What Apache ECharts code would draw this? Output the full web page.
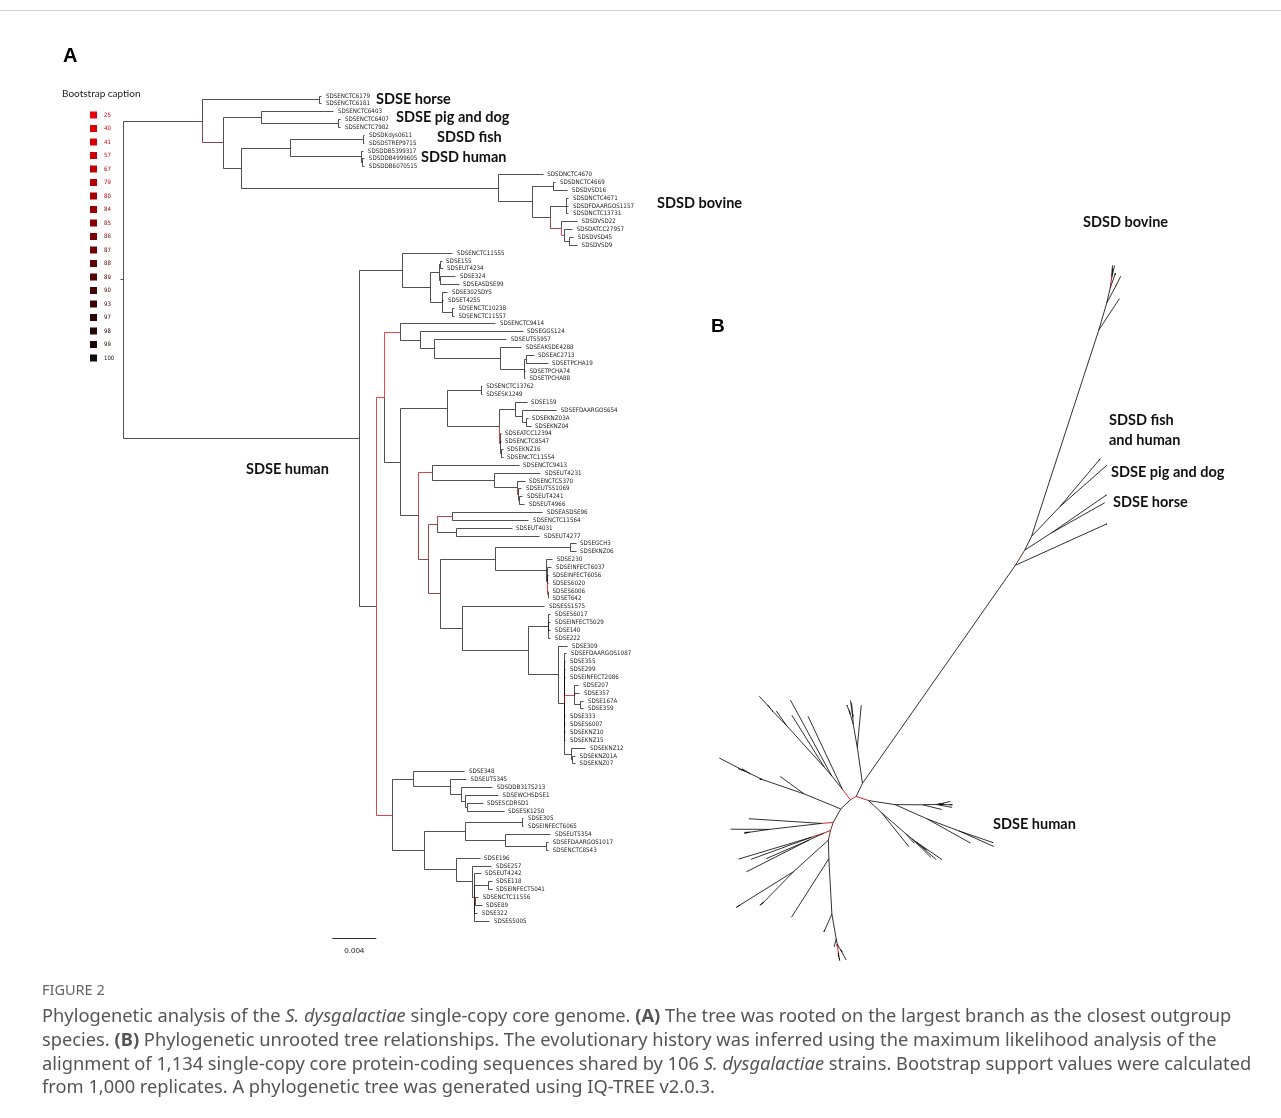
<!DOCTYPE html>
<html>
<head>
<meta charset="utf-8">
<script src="https://cdn.jsdelivr.net/npm/echarts@6/dist/echarts.min.js"></script>
<style>
  html, body { margin: 0; padding: 0; background: #ffffff; }
  #chart { width: 1281px; height: 1118px; }
</style>
</head>
<body>
<div id="chart"></div>
<script>
// ---------------------------------------------------------------------------
// Tree data: Newick clades, branch lengths in 1e-4 substitutions/site,
// internal node labels = bootstrap support (%)
// ---------------------------------------------------------------------------
const cladeHorse = "(SDSENCTC6179:1.8,SDSENCTC6181:1.8)100:106.4";
const cladePigDog = "(SDSENCTC6403:65.5,(SDSENCTC6407:1.8,SDSENCTC7982:1.8)100:70)100:34.5";
const cladeFishHumanSDSD = "((SDSDKdys0611:0.9,SDSDSTREP9715:0.9)100:66.4,(SDSDDB5399317:1.8,(SDSDDB4999605:1.8,SDSDDB6070515:1.8)100:0.9)100:64.5)100:44.5";
const cladeBovine = "(SDSDNCTC4670:40.3,((SDSDNCTC4669:1.8,SDSDVSD16:12.7)100:19.7,((SDSDNCTC4671:1.8,SDSDFDAARGOS1157:1.8,SDSDNCTC13731:1.8)100:14.8,(SDSDVSD22:14.5,(SDSDATCC27957:7,(SDSDVSD45:3.6,SDSDVSD9:7)100:4.5)25:3)86:10)100:16.7)100:30.3)100:233.6";

const humanA = "(SDSENCTC11555:45.5,(((SDSE155:1.4,SDSEUT4234:2.3)100:1.4,(SDSE324:13.6,SDSEASDSE99:16.4)100:1.8)100:7.3,(SDSE302SDYS:4.5,SDSET4255:0.9,(SDSENCTC10238:1.4,SDSENCTC11557:1.4)100:9.1)100:10.9)100:25.5)100:39.1";
const humanB = "(SDSENCTC9414:86.6,(SDSEGGS124:93,(SDSEUTSS957:66.1,(SDSEAKSDE4288:19.7,((SDSEAC2713:6.6,SDSETPCHA19:19.4)100:2.5,SDSETPCHA74:1.4,SDSETPCHA88:1.4)100:21.8)100:60)100:12.1)100:18.2)40:14.3";
const humanC = "((SDSENCTC13762:0.5,SDSESK1249:0.5)100:31.3,((SDSE159:10.9,(SDSEFDAARGOS654:30.9,(SDSEKNZ03A:1.8,SDSEKNZ04:4.5)100:3)100:7)100:14.3,(SDSEATCC12394:0.9,SDSENCTC8547:0.9,(SDSEKNZ16:1.8,SDSENCTC11554:1.8)100:0.9)79:0.6)100:47.3)100:42.4";
const humanD = "(SDSENCTC9413:78.5,(SDSEUT4231:41.8,(SDSENCTC5370:6.4,(SDSEUTSS1069:2.7,(SDSEUT4241:2.7,SDSEUT4966:4.5)100:0.9)80:0.9)100:20.9)100:56.6)57:12.5";
const humanE = "((SDSEASDSE96:82.1,SDSENCTC11564:69.4)84:13.6,(SDSEUT4031:50.3,SDSEUT4277:75.7)100:17.3)86:7.9";
const humanF = "((SDSEGCH3:5.5,SDSEKNZ06:5.5)100:67.3,(SDSE230:5.5,(SDSEINFECT6037:4.1,SDSEINFECT6056:0.9,SDSES6020:0.9,(SDSES6006:0.5,SDSET642:0.5)67:0.5)100:0.7)100:46.1)100:50.3";
const humanG = "(SDSESS1575:74.8,((SDSES6017:1.8,SDSEINFECT5029:1.8,SDSE140:1.8,SDSE222:1.8)100:18.8,(SDSE309:8.8,(SDSEFDAARGOS1087:1.8,SDSE355:0.9,SDSE299:0.9,SDSEINFECT2086:0.9,(SDSE207:3.6,SDSE357:4.5,(SDSE167A:3,SDSE359:3)100:5.2)41:9.1,SDSE333:0.9,SDSES6007:0.9,SDSEKNZ10:0.9,SDSEKNZ15:0.9,(SDSEKNZ12:13,(SDSEKNZ01A:2.7,SDSEKNZ07:2.7)100:0.9)100:6.1)99:6.1)100:27.3)100:59.6)100:20";
const humanH = "(SDSE348:47,(SDSEUT5345:14.5,(SDSDDB3175213:28.8,(SDSEWCHSDSE1:29.7,(SDSESCDRSD1:14.3,SDSESK1250:33.4)100:1.2)100:4.5)100:9.4)100:34)100:19.1";
const humanI = "((SDSE305:1.5,SDSEINFECT6065:1.5)100:51.2,(SDSEUT5354:41.2,(SDSEFDAARGOS1017:1.8,SDSENCTC8543:1.8)100:37.3)100:36.1)100:37.9";
const humanJ = "(SDSE196:21.2,(SDSE257:17.5,(SDSEUT4242:5.5,(SDSE118:3.4,SDSEINFECT5041:3.4)100:12.1,(SDSENCTC11556:2.5,SDSE89:5.5)57:0.9,SDSE322:2.7,SDSES5005:13.6)100:2.1)100:14.5)100:29.5";

const rootStub = 3.6;

// Bootstrap colour key
const bootstrapLevels = [25, 40, 41, 57, 67, 79, 80, 84, 85, 86, 87, 88, 89, 90, 93, 97, 98, 99, 100];
const bootstrapColors = ['#e8000b', '#df0008', '#d60006', '#cb0005', '#bf0004', '#b30003', '#a60002',
  '#980002', '#8a0002', '#7c0102', '#6e0202', '#600303', '#530303', '#470404', '#3b0404',
  '#300404', '#250404', '#1b0404', '#0e0e0e'];

// Scale bar (substitutions/site)
const scaleBarValue = 0.004;
const branchUnit = 1e-4;

// Clade annotations
const cladeLabelsA = [
  { text: 'SDSE horse', x: 376, y: 99 },
  { text: 'SDSE pig and dog', x: 396, y: 117 },
  { text: 'SDSD fish', x: 437, y: 137 },
  { text: 'SDSD human', x: 421, y: 157 },
  { text: 'SDSD bovine', x: 657, y: 203 },
  { text: 'SDSE human', x: 246, y: 469 }
];
const cladeLabelsB = [
  { text: 'SDSD bovine', x: 1083, y: 222 },
  { text: 'SDSD fish', x: 1109, y: 420 },
  { text: 'and human', x: 1109, y: 440 },
  { text: 'SDSE pig and dog', x: 1111, y: 472 },
  { text: 'SDSE horse', x: 1113, y: 502 },
  { text: 'SDSE human', x: 993, y: 824 }
];

const captionLines = [
  'Phylogenetic analysis of the {i|S. dysgalactiae} single-copy core genome. {b|(A)} The tree was rooted on the largest branch as the closest outgroup',
  'species. {b|(B)} Phylogenetic unrooted tree relationships. The evolutionary history was inferred using the maximum likelihood analysis of the',
  'alignment of 1,134 single-copy core protein-coding sequences shared by 106 {i|S. dysgalactiae} strains. Bootstrap support values were calculated',
  'from 1,000 replicates. A phylogenetic tree was generated using IQ-TREE v2.0.3.'
];

// ---------------------------------------------------------------------------
// Assemble and parse the tree
// ---------------------------------------------------------------------------
const outgroup = `(${cladeHorse},(${cladePigDog},(${cladeFishHumanSDSD},${cladeBovine})100:16.4)89:19.1)100:71.8`;
const humanClade = `(${humanA},((${humanB},(${humanC},(${humanD},(${humanE},(${humanF},${humanG})88:10.6)87:9.1)100:16.6)100:14.3)41:7.3,(${humanH},(${humanI},${humanJ})100:29.1)57:13.9)100:15.5)100:214.5`;
const treeNewick = `(${outgroup},${humanClade}):${rootStub};`;

function parseNewick(s) {
  let i = 0;
  function node() {
    const n = { children: [], name: '', len: 0, support: 100 };
    if (s[i] === '(') {
      i++;
      n.children.push(node());
      while (s[i] === ',') { i++; n.children.push(node()); }
      i++;
    }
    let label = '';
    while (i < s.length && !',():;'.includes(s[i])) label += s[i++];
    if (n.children.length) { if (label) n.support = +label; } else n.name = label;
    if (s[i] === ':') {
      i++;
      let num = '';
      while (i < s.length && !',();'.includes(s[i])) num += s[i++];
      n.len = +num;
    }
    return n;
  }
  return node();
}

const tree = parseNewick(treeNewick);

function supportColor(v) {
  let c = bootstrapColors[0];
  bootstrapLevels.forEach((l, k) => { if (v >= l) c = bootstrapColors[k]; });
  return c;
}
const fullSupport = supportColor(100);

// Rectangular (rooted) layout: x = distance from root, y = leaf order
let leafCounter = 0;
const leaves = [];
function layoutRect(n, x0) {
  n.x = x0 + n.len;
  if (!n.children.length) { n.y = leafCounter++; leaves.push(n); n.leafCount = 1; return; }
  n.children.forEach(c => layoutRect(c, n.x));
  n.y = (n.children[0].y + n.children[n.children.length - 1].y) / 2;
  n.leafCount = n.children.reduce((a, c) => a + c.leafCount, 0);
}
layoutRect(tree, 0);

const rectSegments = [];
const rectColors = [];
rectSegments.push([0, tree.y, tree.x, tree.y]); rectColors.push(fullSupport);
(function walk(p) {
  p.children.forEach(c => {
    const col = supportColor(c.support);
    rectSegments.push([p.x, p.y, p.x, c.y]); rectColors.push(col);
    rectSegments.push([p.x, c.y, c.x, c.y]); rectColors.push(col);
    walk(c);
  });
})(tree);
// low-support branches are drawn last so they stay visible
const rectOrder = rectSegments.map((s, k) => k).sort((a, b) =>
  (rectColors[a] === fullSupport ? 0 : 1) - (rectColors[b] === fullSupport ? 0 : 1));
const rectData = rectOrder.map(k => rectSegments[k]);
const rectDataColors = rectOrder.map(k => rectColors[k]);

// Equal-angle (unrooted) layout; the ingroup fan is turned slightly about its own node
const deg = Math.PI / 180;
const startAngle = 21 * deg;
const ingroupTwist = -6 * deg;
const unrootedSegments = [];
const unrootedColors = [];
function layoutRadial(n, x, y, a0, a1) {
  n.ux = x; n.uy = y;
  let a = a0;
  n.children.forEach((c, k) => {
    const share = (a1 - a0) * c.leafCount / n.leafCount;
    const mid = a + share / 2;
    const cx = x + c.len * Math.cos(mid), cy = y + c.len * Math.sin(mid);
    unrootedSegments.push([x, y, cx, cy]);
    unrootedColors.push(supportColor(c.support));
    const twist = (n === tree && k === 1) ? ingroupTwist : 0;
    layoutRadial(c, cx, cy, a + twist, a + share + twist);
    a += share;
  });
}
layoutRadial(tree, 0, 0, startAngle, startAngle + 2 * Math.PI);
const unrootedOrder = unrootedSegments.map((s, k) => k).sort((a, b) =>
  (unrootedColors[a] === fullSupport ? 0 : 1) - (unrootedColors[b] === fullSupport ? 0 : 1));

// ---------------------------------------------------------------------------
// Page layout (pixels)
// ---------------------------------------------------------------------------
const gridA = { left: 120, top: 96, pxPerUnit: 1.1, height: 825 };
const unitsA = 500;
const gridB = { left: 690, top: 180, width: 590, height: 800, pxPerUnit: 0.93, origin: [977, 620] };
const bxMin = -(gridB.origin[0] - gridB.left) / gridB.pxPerUnit;
const bxMax = bxMin + gridB.width / gridB.pxPerUnit;
const byMax = (gridB.origin[1] - gridB.top) / gridB.pxPerUnit;
const byMin = byMax - gridB.height / gridB.pxPerUnit;

const crisp = v => Math.round(v - 0.5) + 0.5;
const leafFont = '"Liberation Sans Narrow", "DejaVu Sans Condensed", Arial, sans-serif';
const boldFont = 'Lato, "Open Sans", sans-serif';
const captionFamily = '"Noto Sans", "Open Sans", sans-serif';
const captionSize = 18.3;
const treeOpacity = 0.72;

function lineItem(params, api, colors) {
  const p1 = api.coord([api.value(0), api.value(1)]);
  const p2 = api.coord([api.value(2), api.value(3)]);
  return {
    type: 'line',
    shape: { x1: crisp(p1[0]), y1: crisp(p1[1]), x2: crisp(p2[0]), y2: crisp(p2[1]) },
    style: { stroke: colors[params.dataIndex], lineWidth: 1, opacity: treeOpacity },
    silent: true
  };
}

const graphics = [];
// top rule
graphics.push({ type: 'line', shape: { x1: 0, y1: 10.5, x2: 1281, y2: 10.5 }, style: { stroke: '#cfcfcf', lineWidth: 1 } });
// panel letters
graphics.push({ type: 'text', x: 63, y: 56, style: { text: 'A', font: 'bold 20px "Liberation Sans", Arial, sans-serif', fill: '#000', verticalAlign: 'middle' } });
graphics.push({ type: 'text', x: 711, y: 327, style: { text: 'B', font: 'bold 19px "Liberation Sans", Arial, sans-serif', fill: '#000', verticalAlign: 'middle' } });
// bootstrap key
graphics.push({ type: 'text', x: 62, y: 94, style: { text: 'Bootstrap caption', font: '10px ' + boldFont, fill: '#222', verticalAlign: 'middle' } });
bootstrapLevels.forEach((lv, k) => {
  const cy = 115 + k * 13.5;
  graphics.push({ type: 'rect', shape: { x: 90, y: cy - 3.5, width: 7, height: 7 }, style: { fill: bootstrapColors[k] } });
  graphics.push({ type: 'text', x: 104, y: cy, style: { text: String(lv), font: '6px ' + leafFont, fill: bootstrapColors[k], verticalAlign: 'middle' } });
});
// clade labels
cladeLabelsA.forEach(l => graphics.push({ type: 'text', x: l.x, y: l.y, style: { text: l.text, font: 'bold 14.5px ' + boldFont, fill: '#111', verticalAlign: 'middle' } }));
cladeLabelsB.forEach(l => graphics.push({ type: 'text', x: l.x, y: l.y, style: { text: l.text, font: 'bold 14.5px ' + boldFont, fill: '#111', verticalAlign: 'middle' } }));
// caption
graphics.push({ type: 'text', x: 42, y: 991, style: { text: 'FIGURE 2', font: '14.5px ' + captionFamily, fill: '#666', verticalAlign: 'middle' } });
const captionRich = {
  i: { fontStyle: 'italic', fontSize: captionSize, fontFamily: captionFamily, fill: '#555', color: '#555' },
  b: { fontWeight: 'bold', fontSize: captionSize, fontFamily: captionFamily, fill: '#555', color: '#555' }
};
captionLines.forEach((t, k) => graphics.push({
  type: 'text', x: 42, y: 1017 + k * 23.7,
  style: { text: t, rich: captionRich, font: captionSize + 'px ' + captionFamily, fill: '#555', verticalAlign: 'middle' }
}));

const chart = echarts.init(document.getElementById('chart'), null, { renderer: 'canvas' });
chart.setOption({
  animation: false,
  backgroundColor: '#ffffff',
  grid: [
    { left: gridA.left, top: gridA.top, width: unitsA * gridA.pxPerUnit, height: gridA.height, containLabel: false, outerBoundsMode: 'none' },
    { left: gridB.left, top: gridB.top, width: gridB.width, height: gridB.height, containLabel: false, outerBoundsMode: 'none' }
  ],
  xAxis: [
    { type: 'value', gridIndex: 0, min: 0, max: unitsA, show: false },
    { type: 'value', gridIndex: 1, min: bxMin, max: bxMax, show: false }
  ],
  yAxis: [
    { type: 'value', gridIndex: 0, min: 0, max: leaves.length - 1, inverse: true, show: false },
    { type: 'value', gridIndex: 1, min: byMin, max: byMax, show: false }
  ],
  graphic: graphics,
  series: [
    {
      type: 'custom', name: 'rooted tree', xAxisIndex: 0, yAxisIndex: 0, silent: true,
      data: rectData,
      renderItem: (params, api) => lineItem(params, api, rectDataColors)
    },
    {
      type: 'custom', name: 'tip labels', xAxisIndex: 0, yAxisIndex: 0, silent: true,
      data: leaves.map(l => [l.x, l.y]),
      renderItem: (params, api) => {
        const p = api.coord([api.value(0), api.value(1)]);
        return {
          type: 'text', x: p[0] + 4, y: p[1],
          style: { text: leaves[params.dataIndex].name, fontSize: 6.2, fontFamily: leafFont, fill: '#222', align: 'left', verticalAlign: 'middle' }
        };
      }
    },
    {
      type: 'custom', name: 'scale bar', xAxisIndex: 0, yAxisIndex: 0, silent: true,
      data: [[193, 107.2, 193 + scaleBarValue / branchUnit]],
      renderItem: (params, api) => {
        const p1 = api.coord([api.value(0), api.value(1)]);
        const p2 = api.coord([api.value(2), api.value(1)]);
        return {
          type: 'group', children: [
            { type: 'line', shape: { x1: p1[0], y1: crisp(p1[1]), x2: p2[0], y2: crisp(p2[1]) }, style: { stroke: '#333', lineWidth: 1 } },
            { type: 'text', x: (p1[0] + p2[0]) / 2, y: p1[1] + 13, style: { text: String(scaleBarValue), fontSize: 8, fontFamily: '"Liberation Sans", Arial, sans-serif', fill: '#222', align: 'center', verticalAlign: 'middle' } }
          ]
        };
      }
    },
    {
      type: 'custom', name: 'unrooted tree', xAxisIndex: 1, yAxisIndex: 1, silent: true,
      data: unrootedOrder.map(k => unrootedSegments[k]),
      renderItem: (params, api) => {
        const p1 = api.coord([api.value(0), api.value(1)]);
        const p2 = api.coord([api.value(2), api.value(3)]);
        return {
          type: 'line',
          shape: { x1: p1[0], y1: p1[1], x2: p2[0], y2: p2[1] },
          style: { stroke: unrootedColors[unrootedOrder[params.dataIndex]], lineWidth: 1, opacity: 0.85 }
        };
      }
    }
  ]
});
</script>
</body>
</html>
